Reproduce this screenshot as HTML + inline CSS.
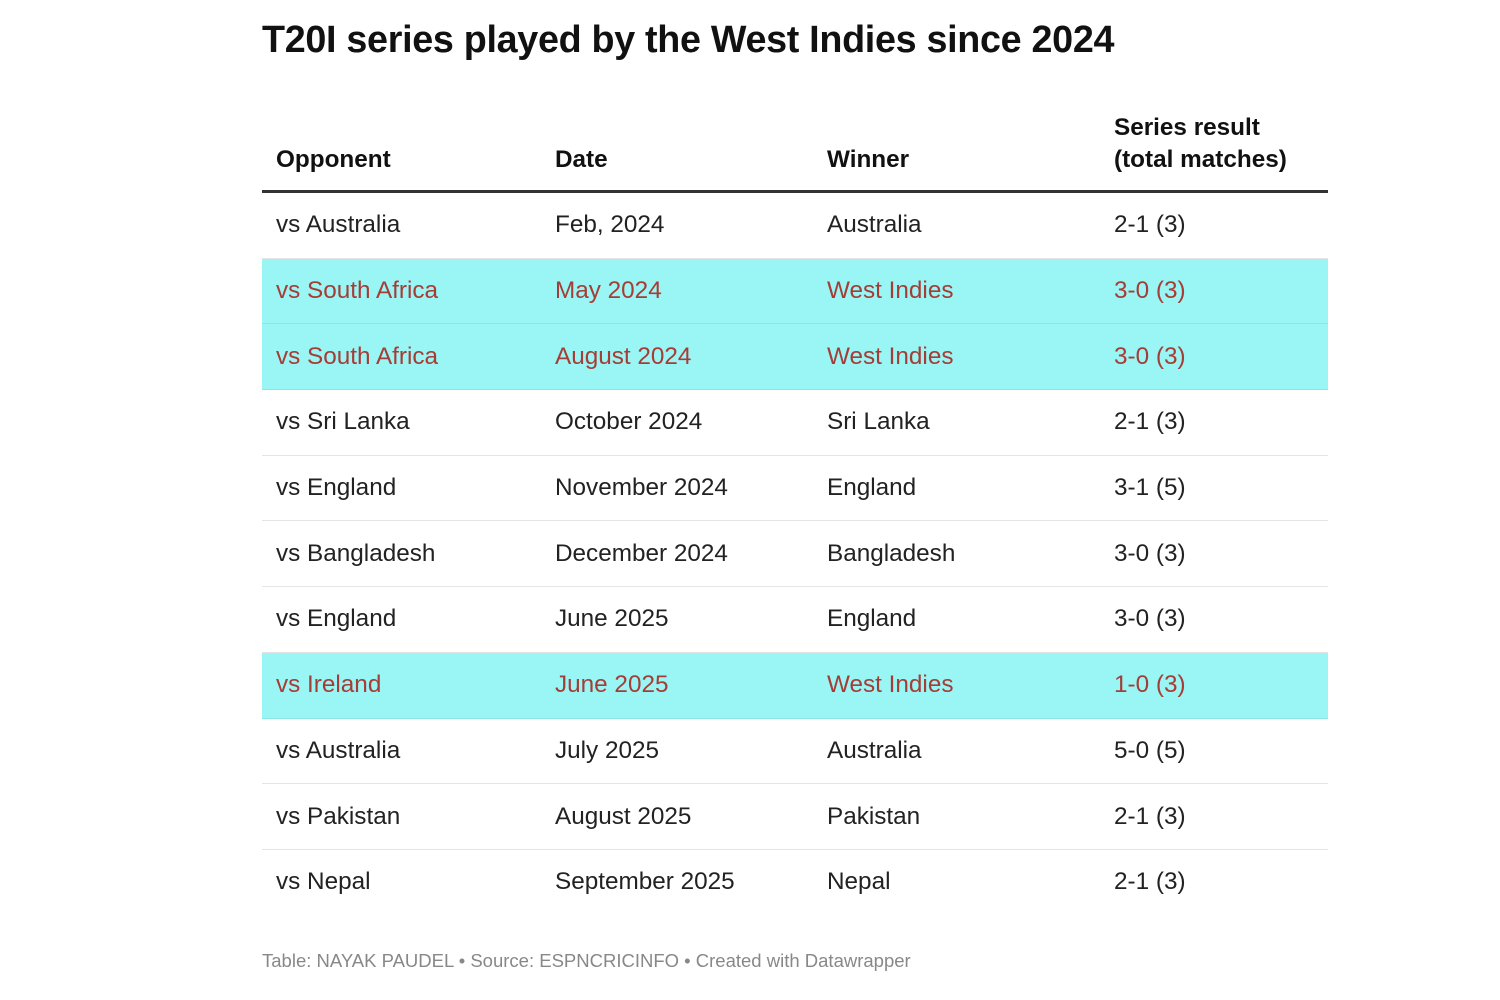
<!DOCTYPE html>
<html><head><style>
body{margin:0;background:#fff;font-family:"Liberation Sans",sans-serif;}
h1{position:absolute;left:262px;top:18px;margin:0;font-size:37.7px;font-weight:bold;color:#111;letter-spacing:-0.3px;}
table{position:absolute;left:262px;top:112px;width:1066px;border-collapse:collapse;font-size:24.3px;color:#222;}
th{text-align:left;vertical-align:bottom;font-weight:bold;padding:0 0 14px 14px;line-height:32px;border-bottom:3px solid #333;color:#111;}
td{height:64.7px;padding:0 0 0 14px;border-bottom:1px solid #e4e4e4;}
tr.h td{background:#9af5f5;color:#a53d37;border-bottom:1px solid #8ee5e5;}
tr:last-child td{border-bottom:none;}
.f{position:absolute;left:262px;top:950px;font-size:18.5px;color:#888;}
</style></head><body>
<h1>T20I series played by the West Indies since 2024</h1>
<table>
<colgroup><col style="width:279px"><col style="width:272px"><col style="width:287px"><col></colgroup>
<tr><th>Opponent</th><th>Date</th><th>Winner</th><th>Series result<br>(total matches)</th></tr>
<tr><td>vs Australia</td><td>Feb, 2024</td><td>Australia</td><td>2-1 (3)</td></tr>
<tr class="h"><td>vs South Africa</td><td>May 2024</td><td>West Indies</td><td>3-0 (3)</td></tr>
<tr class="h"><td>vs South Africa</td><td>August 2024</td><td>West Indies</td><td>3-0 (3)</td></tr>
<tr><td>vs Sri Lanka</td><td>October 2024</td><td>Sri Lanka</td><td>2-1 (3)</td></tr>
<tr><td>vs England</td><td>November 2024</td><td>England</td><td>3-1 (5)</td></tr>
<tr><td>vs Bangladesh</td><td>December 2024</td><td>Bangladesh</td><td>3-0 (3)</td></tr>
<tr><td>vs England</td><td>June 2025</td><td>England</td><td>3-0 (3)</td></tr>
<tr class="h"><td>vs Ireland</td><td>June 2025</td><td>West Indies</td><td>1-0 (3)</td></tr>
<tr><td>vs Australia</td><td>July 2025</td><td>Australia</td><td>5-0 (5)</td></tr>
<tr><td>vs Pakistan</td><td>August 2025</td><td>Pakistan</td><td>2-1 (3)</td></tr>
<tr><td>vs Nepal</td><td>September 2025</td><td>Nepal</td><td>2-1 (3)</td></tr>
</table>
<div class="f">Table: NAYAK PAUDEL • Source: ESPNCRICINFO • Created with Datawrapper</div>
</body></html>
